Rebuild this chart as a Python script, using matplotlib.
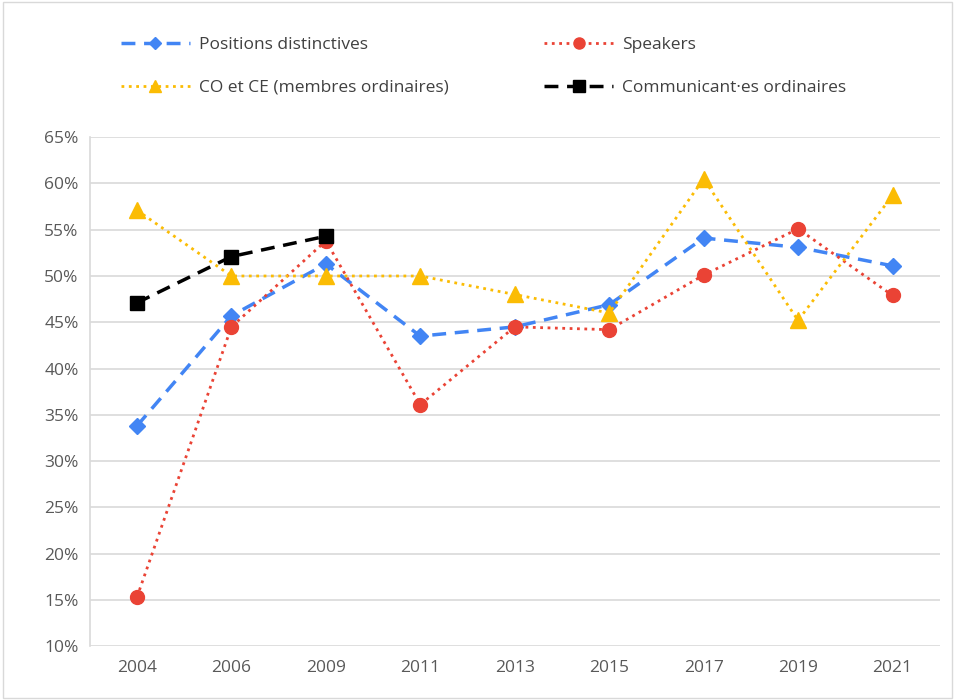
import matplotlib
matplotlib.use("Agg")
import matplotlib.pyplot as plt
from matplotlib.patches import Rectangle
from matplotlib.ticker import FuncFormatter

years = ["2004", "2006", "2009", "2011", "2013", "2015", "2017", "2019", "2021"]
positions = [33.8, 45.7, 51.3, 43.5, 44.5, 46.9, 54.1, 53.1, 51.1]
speakers = [15.3, 44.5, 53.8, 36.1, 44.5, 44.2, 50.1, 55.1, 47.9]
co_ce = [57.1, 50.0, 50.0, 50.0, 48.0, 46.0, 60.5, 45.2, 58.7]
communicants = [47.1, 52.1, 54.3]

plt.rcParams["font.family"] = ["Open Sans", "DejaVu Sans"]

fig = plt.figure(figsize=(9.55, 7.0), dpi=100)
ax = fig.add_axes([0.094, 0.077, 0.89, 0.727])
x = list(range(len(years)))

l1, = ax.plot(x, positions, "--", color="#4285F4", lw=2.5, dashes=(4, 2.5),
              marker="D", ms=8, label="Positions distinctives", zorder=3)
l2, = ax.plot(x, speakers, ":", color="#EA4335", lw=2,
              marker="o", ms=10, label="Speakers", zorder=3)
l3, = ax.plot(x, co_ce, ":", color="#FBBC04", lw=2,
              marker="^", ms=11, label="CO et CE (membres ordinaires)", zorder=3)
l4, = ax.plot(x[:len(communicants)], communicants, "--", color="black", lw=2.5, dashes=(4, 2.5),
              marker="s", ms=10, label="Communicant·es ordinaires", zorder=4)

ax.set_xlim(-0.5, len(years) - 0.5)
ax.set_ylim(10, 65)
ax.set_yticks(range(10, 66, 5))
ax.yaxis.set_major_formatter(FuncFormatter(lambda v, _: f"{v:.0f}%"))
ax.set_xticks(x)
ax.set_xticklabels(years)
ax.grid(axis="y", color="#d9d9d9", lw=1.2)
ax.set_axisbelow(True)
for s in ["top", "right", "bottom"]:
    ax.spines[s].set_visible(False)
ax.spines["left"].set_color("#d9d9d9")
ax.spines["left"].set_linewidth(1.2)
ax.tick_params(length=0, colors="#595959", labelsize=12.5)
ax.tick_params(axis="x", pad=10)
ax.tick_params(axis="y", pad=8)

fig.legend(handles=[l1, l3, l2, l4], ncol=2, loc="upper left",
           bbox_to_anchor=(0.11, 0.97), frameon=False, fontsize=12.5,
           columnspacing=5.5, handlelength=4, handletextpad=0.5,
           labelspacing=1.55, labelcolor="#404040", markerscale=0.8)

fig.patches.append(Rectangle((0.003, 0.003), 0.994, 0.994, transform=fig.transFigure,
                             fill=False, edgecolor="#d9d9d9", lw=1))
fig.savefig("out.png", dpi=100)
